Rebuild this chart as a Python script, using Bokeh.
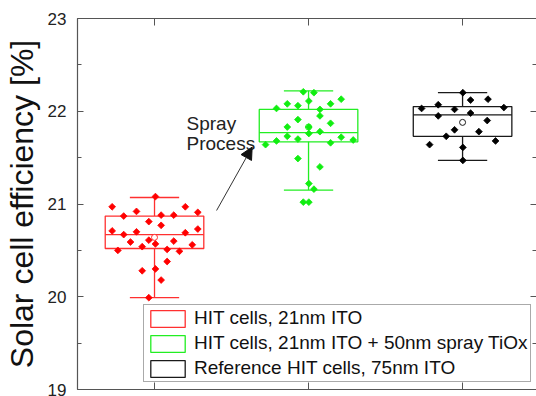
from bokeh.plotting import figure
from bokeh.models import (LinearAxis, FixedTicker, SingleIntervalTicker, Range1d,
                          Legend, LegendItem, Arrow, NormalHead)
from bokeh.core.properties import value
from bokeh.embed import file_html
from bokeh.resources import INLINE
import math

FONT = "Liberation Sans"

# ---------------- data ----------------
series_names = ["HIT cells, 21nm ITO",
                "HIT cells, 21nm ITO + 50nm spray TiOx",
                "Reference HIT cells, 75nm ITO"]
positions = [1, 2, 3]
point_colors = ["#ff0000", "#11ee11", "#000000"]
box_colors = ["#ff3030", "#22ee22", "#1a1a1a"]

whisker_low = [19.99, 21.15, 21.47]
q1 = [20.52, 21.67, 21.73]
median = [20.67, 21.77, 21.96]
q3 = [20.87, 22.02, 22.05]
whisker_high = [21.07, 22.22, 22.20]
means = [20.64, 21.83, 21.88]

red_x = [0.725, 0.80, 0.883, 1.006, 0.963, 1.043, 1.125, 1.20, 1.281, 0.725,
         0.80, 0.883, 0.844, 0.92, 0.963, 1.006, 1.043, 1.082, 1.125, 1.162,
         1.20, 1.245, 1.281, 0.762, 1.082, 0.92, 1.006, 1.043, 0.963]
red_y = [20.97, 20.87, 20.92, 21.08, 20.81, 20.88, 20.88, 20.97, 20.91, 20.71,
         20.67, 20.70, 20.59, 20.54, 20.61, 20.57, 20.77, 20.51, 20.60, 20.49,
         20.69, 20.56, 20.73, 20.50, 20.38, 20.28, 20.30, 20.18, 19.99]

green_x = [1.966, 2.035, 2.002, 1.862, 1.931, 1.792, 2.074, 2.143, 2.212, 1.931,
           2.074, 2.143, 1.862, 2.002, 2.074, 2.002, 1.862, 1.931, 1.792, 1.721,
           2.143, 2.212, 2.29, 1.931, 2.074, 2.002, 2.035, 1.966, 2.002]
green_y = [22.21, 22.20, 22.11, 22.08, 22.06, 22.03, 22.02, 22.08, 22.13, 21.91,
           21.95, 21.87, 21.83, 21.83, 21.78, 21.76, 21.73, 21.70, 21.68, 21.64,
           21.66, 21.72, 21.69, 21.49, 21.40, 21.22, 21.16, 21.02, 21.02]

black_x = [3.002, 3.052, 3.165, 2.734, 2.842, 2.948, 3.268, 2.842, 3.052, 3.16,
           2.948, 2.894, 3.106, 2.786, 3.214, 3.002, 3.002]
black_y = [22.20, 22.12, 22.13, 22.03, 22.07, 22.02, 22.04, 21.95, 21.98, 21.90,
           21.80, 21.73, 21.78, 21.64, 21.68, 21.61, 21.47]

points_x = [red_x, green_x, black_x]
points_y = [red_y, green_y, black_y]

y_tick_values = [19, 20, 21, 22, 23]
y_ticks_major = 1
annot_lines = ["Spray", "Process"]
annot_x = 1.208
annot_y = [21.863, 21.651]
arrow_from = (1.403, 20.93)
arrow_to = (1.634, 21.614)

BOX_HALF = 0.32
CAP_HALF = 0.16

# ---------------- figure ----------------
p = figure(width=536, height=396, output_backend="svg", toolbar_location=None,
           x_range=Range1d(0.5, 3.48), y_range=Range1d(19, 23),
           min_border_left=77, min_border_right=0, min_border_top=18,
           min_border_bottom=7, x_axis_location=None, y_axis_location=None)
p.xgrid.visible = False
p.ygrid.visible = False
p.outline_line_color = None
p.background_fill_color = "white"
p.border_fill_color = "white"

AXIS_COLOR = "#555555"

left = LinearAxis(ticker=SingleIntervalTicker(interval=y_ticks_major, num_minor_ticks=2),
                  axis_label="Solar cell efficiency [%]")
left.axis_line_color = AXIS_COLOR
left.axis_line_width = 1.2
left.major_tick_line_color = AXIS_COLOR
left.minor_tick_line_color = AXIS_COLOR
left.major_tick_in = 6
left.major_tick_out = 0
left.minor_tick_in = 4
left.minor_tick_out = 0
left.major_label_standoff = 11
left.major_label_text_font = FONT
left.major_label_text_font_size = "17px"
left.major_label_text_color = "#222222"
left.axis_label_text_font = FONT
left.axis_label_text_font_size = "32px"
left.axis_label_text_font_style = "normal"
left.axis_label_text_color = "#111111"
left.axis_label_standoff = 5
p.add_layout(left, "left")

right = LinearAxis(ticker=SingleIntervalTicker(interval=y_ticks_major, num_minor_ticks=2))
right.axis_line_color = None
right.major_tick_line_color = AXIS_COLOR
right.minor_tick_line_color = AXIS_COLOR
right.major_tick_in = 6
right.major_tick_out = 0
right.minor_tick_in = 4
right.minor_tick_out = 0
right.major_label_overrides = {v: "" for v in y_tick_values}
right.major_label_standoff = 0
p.add_layout(right, "right")

for loc in ["above", "below"]:
    ax = LinearAxis(ticker=FixedTicker(ticks=positions))
    ax.axis_line_color = AXIS_COLOR
    ax.axis_line_width = 1.2
    ax.major_tick_line_color = AXIS_COLOR
    ax.major_tick_in = 7
    ax.major_tick_out = 0
    ax.minor_tick_line_color = None
    ax.major_label_overrides = {v: "" for v in positions}
    ax.major_label_standoff = 0
    p.add_layout(ax, loc)

# ---------------- boxes ----------------
box_renderers = []
for i in range(3):
    c = box_colors[i]
    xc = positions[i]
    r = p.quad(left=[xc - BOX_HALF], right=[xc + BOX_HALF], bottom=[q1[i]], top=[q3[i]],
               fill_color="white", line_color=c, line_width=1.3)
    box_renderers.append(r)
    p.segment(x0=[xc, xc], y0=[q3[i], q1[i]], x1=[xc, xc], y1=[whisker_high[i], whisker_low[i]],
              line_color=c, line_width=1.3)
    p.segment(x0=[xc - CAP_HALF, xc - CAP_HALF], y0=[whisker_high[i], whisker_low[i]],
              x1=[xc + CAP_HALF, xc + CAP_HALF], y1=[whisker_high[i], whisker_low[i]],
              line_color=c, line_width=1.3)
    p.segment(x0=[xc - BOX_HALF], y0=[median[i]], x1=[xc + BOX_HALF], y1=[median[i]],
              line_color=c, line_width=1.3)
    p.scatter(x=[xc], y=[means[i]], marker="circle", size=6, fill_color="white",
              line_color=c, line_width=1)

for i in range(3):
    p.scatter(x=points_x[i], y=points_y[i], marker="square", size=4.8, angle=math.pi / 4,
              fill_color=point_colors[i], line_color=point_colors[i], line_width=0.8)

# ---------------- annotation ----------------
p.text(x=[annot_x] * 2, y=annot_y, text=annot_lines, text_font=value(FONT),
       text_font_size="19px", text_align="left", text_baseline="alphabetic",
       text_color="#222222")
p.add_layout(Arrow(end=NormalHead(size=12, fill_color="#111111", line_color="#111111"),
                   x_start=arrow_from[0], y_start=arrow_from[1],
                   x_end=arrow_to[0], y_end=arrow_to[1],
                   line_color="#333333", line_width=1))

# ---------------- legend ----------------
legend = Legend(items=[LegendItem(label=series_names[i], renderers=[box_renderers[i]])
                       for i in range(3)],
                location=(66, 7), glyph_width=43, glyph_height=21, label_height=21,
                label_standoff=5, padding=2, spacing=3, margin=0,
                label_text_font=FONT, label_text_font_size="19px",
                label_text_color="#111111", border_line_color="#555555",
                border_line_width=1, background_fill_color="white", background_fill_alpha=1)
p.add_layout(legend)

open("out.html", "w").write(file_html(p, INLINE))
